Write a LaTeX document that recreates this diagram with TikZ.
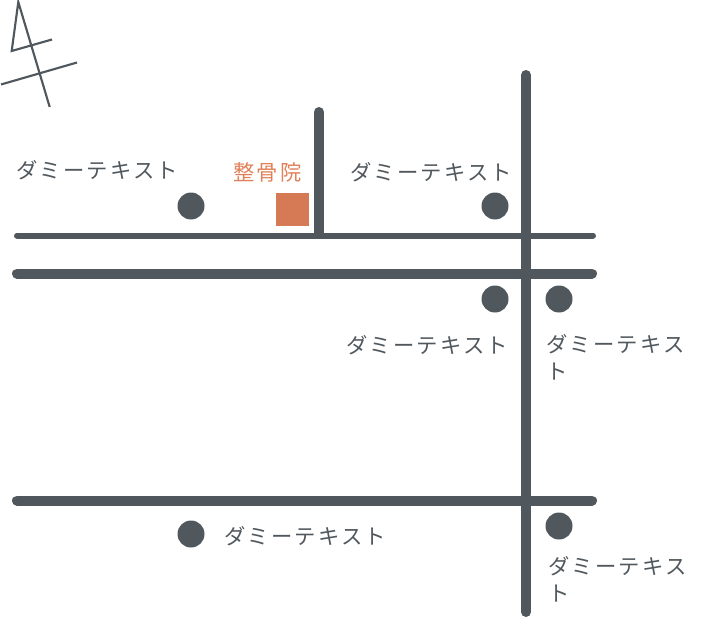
\documentclass[tikz,border=0pt]{standalone}
\usepackage{fontspec}
\newfontfamily\cjk[LetterSpace=10.4]{Noto Sans CJK JP}
\definecolor{road}{HTML}{50585E}
\definecolor{mark}{HTML}{D57A55}
\definecolor{marktext}{HTML}{E08058}
\tikzset{
  wide/.style={draw=road,line width=7.5pt,line cap=round},
  narrow/.style={draw=road,line width=4.5pt,line cap=round},
  compass/.style={draw=road,line width=1.6pt},
  stop/.style={circle,fill=road,minimum size=20.25pt,inner sep=0pt},
  lab/.style={font=\cjk\fontsize{16pt}{20.3pt}\selectfont,text=road,inner sep=0pt,align=left},
  clinic/.style={font=\cjk\fontsize{16pt}{20pt}\selectfont,text=marktext,inner sep=0pt},
  square/.style={fill=mark,minimum size=24.75pt,inner sep=0pt}
}
\begin{document}
\begin{tikzpicture}[x=0.75pt,y=-0.75pt]
\useasboundingbox (0,0) rectangle (707,617);
% roads
\coordinate (h1a) at (17,235.5); \coordinate (h1b) at (593,235.5);
\coordinate (h2a) at (17,273.5); \coordinate (h2b) at (592,273.5);
\coordinate (h3a) at (17,500.5); \coordinate (h3b) at (592,500.5);
\coordinate (v1a) at (526,75); \coordinate (v1b) at (526,612);
\coordinate (v2a) at (319,112); \coordinate (v2b) at (319,233);
\draw[narrow] (h1a) -- (h1b);
\draw[wide] (h2a) -- (h2b);
\draw[wide] (h3a) -- (h3b);
\draw[wide] (v1a) -- (v1b);
\draw[wide] (v2a) -- (v2b);
% compass
\coordinate (c1) at (18.3,2); \coordinate (c2) at (49.7,107);
\coordinate (c3) at (11.7,51); \coordinate (c4) at (52,39.5);
\coordinate (c5) at (1,84.5); \coordinate (c6) at (77,62.5);
\draw[compass,line join=miter] (c2) -- (c1) -- (c3) -- (c4);
\draw[compass] (c5) -- (c6);
% stops
\node[stop] (s1) at (191,206) {};
\node[stop] (s2) at (495,206) {};
\node[stop] (s3) at (495,299) {};
\node[stop] (s4) at (559,299) {};
\node[stop] (s5) at (191,534) {};
\node[stop] (s6) at (559,526) {};
\node[square] (clinicbox) at (292.5,209.5) {};
% labels
\node[clinic,anchor=west] (t0) at (233,172) {整骨院};
\node[lab,anchor=west] (t1) at (16,170) {ダミーテキスト};
\node[lab,anchor=west] (t2) at (350,172) {ダミーテキスト};
\node[lab,anchor=west] (t3) at (346,345.5) {ダミーテキスト};
\node[lab,anchor=north west] (t4) at (546,334) {ダミーテキス\\ト};
\node[lab,anchor=west] (t5) at (224,536) {ダミーテキスト};
\node[lab,anchor=north west] (t6) at (548,556) {ダミーテキス\\ト};
\end{tikzpicture}
\end{document}
